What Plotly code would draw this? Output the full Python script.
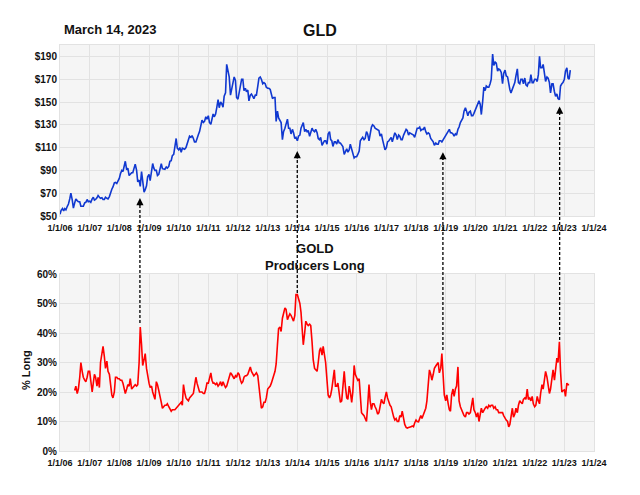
import plotly.graph_objects as go
import pandas as pd

# ---------------- DATA ----------------
tick_labels = ["1/1/06", "1/1/07", "1/1/08", "1/1/09", "1/1/10", "1/1/11", "1/1/12",
               "1/1/13", "1/1/14", "1/1/15", "1/1/16", "1/1/17", "1/1/18", "1/1/19",
               "1/1/20", "1/1/21", "1/1/22", "1/1/23", "1/1/24"]
gld_ticks = [50, 70, 90, 110, 130, 150, 170, 190]
gld_tick_labels = ["$50", "$70", "$90", "$110", "$130", "$150", "$170", "$190"]
pct_ticks = [0, 10, 20, 30, 40, 50, 60]
pct_tick_labels = ["0%", "10%", "20%", "30%", "40%", "50%", "60%"]

# GLD price, twice a month (1st and 15th) from Jan 2006 to Mar 2023
gld_2006 = [51.6, 55, 56.5, 54.5, 56.5, 55.5, 58.5, 60.5, 65, 70, 64, 57,
            61.5, 65, 63.5, 62.5, 62.5, 58.5, 58.5, 58.5, 61.5, 62, 64.5, 62.5]
gld_2007 = [63, 62, 65, 66.5, 64, 64.5, 66, 68, 66.5, 65.5, 66, 64.5,
            64.5, 66.5, 65.5, 65, 67, 70.5, 73.5, 75.5, 79, 79.5, 78.5, 80.5]
gld_2008 = [83, 87, 90, 89, 95, 98, 90.5, 92, 85.5, 87, 88, 88,
            92, 95.5, 90, 80, 81.5, 76, 89, 82, 71, 73, 76.5, 84.5]
gld_2009 = [86.5, 81, 90, 96, 92, 90, 90, 85.5, 86.5, 90, 96, 91.5,
            91.5, 91, 93, 92, 93.5, 98, 98.5, 103, 104, 110, 118, 109.5]
gld_2010 = [108, 110, 106, 109.5, 109, 108.5, 110, 113, 115, 120, 119, 120.5,
            118, 115, 115, 119, 121.5, 124, 129, 134, 132, 133, 137, 135]
gld_2011 = [138, 132, 130.5, 134, 139.5, 137, 139.5, 145, 152, 145, 150, 148.5,
            145.5, 155, 158, 183, 178, 172, 156, 162, 170, 172, 169, 154]
gld_2012 = [152.5, 158, 168, 170, 170, 160, 162, 159, 160.5, 151, 156, 157,
            155, 153, 156, 156, 164, 171, 172, 170, 166, 167, 166, 163]
gld_2013 = [162, 162, 161, 155, 153, 154, 154, 133, 142, 136, 134, 132,
            117, 124, 127, 130, 135, 127, 127, 122, 126, 123, 118, 119]
gld_2014 = [116, 120, 121, 127, 129, 132, 124, 126, 124, 125, 120, 124,
            127, 125, 124, 126, 123, 118, 117, 119, 112, 114, 116, 116]
gld_2015 = [113, 122, 124, 117, 116, 111, 115, 115, 113, 117, 114, 114,
            112, 111, 104, 107, 109, 106, 108, 113, 109, 104, 101, 102]
gld_2016 = [102, 104, 107, 116, 118, 119, 117, 118, 124, 122, 116, 124,
            128, 130, 129, 127, 126, 126, 125, 120, 122, 117, 112, 108]
gld_2017 = [110, 115, 116, 118, 119, 115, 119, 123, 121, 117, 121, 120,
            117, 117, 121, 123, 126, 125, 121, 123, 122, 122, 121, 119]
gld_2018 = [125, 127, 127, 128, 125, 126, 126, 128, 124, 122, 123, 122,
            118, 117, 115, 112, 114, 113, 113, 116, 116, 115, 117, 118]
gld_2019 = [121, 122, 124, 126, 123, 123, 122, 120, 122, 121, 126, 128,
            132, 134, 136, 142, 145, 142, 138, 141, 142, 138, 138, 140]
gld_2020 = [143, 146, 149, 151, 148, 139, 151, 163, 160, 164, 163, 163,
            166, 170, 192, 182, 185, 184, 177, 179, 178, 176, 166, 175]
gld_2021 = [178, 173, 172, 165, 161, 158, 161, 165, 167, 173, 179, 167,
            166, 170, 170, 166, 171, 165, 164, 167, 167, 174, 167, 167]
gld_2022 = [170, 170, 168, 174, 190, 180, 180, 183, 175, 168, 172, 171,
            167, 158, 166, 166, 159, 155, 157, 153, 152, 164, 166, 167]
gld_2023 = [170, 177, 180, 171, 170, 178]

# Gold producers long (% of open interest), twice a month from Jul 2006 to Mar 2023
prod_2006 = [20.5, 22, 19.5, 21, 25, 30, 27, 25, 24, 23.5, 25, 27]
prod_2007 = [27, 24, 20, 23, 26, 25, 22, 25, 21.5, 30, 33, 35.5,
             32, 28, 30.5, 27, 26, 22, 19, 18, 20, 25, 25, 24.5]
prod_2008 = [24.5, 24, 24, 23, 21, 19.5, 21, 22.5, 22, 24.5, 21, 21.5,
             22, 22.5, 22, 22.5, 30, 42, 36, 29, 31, 33, 28, 25]
prod_2009 = [23, 21.5, 22, 20, 18.5, 17.5, 23.5, 22.5, 20.5, 19, 16.5, 14.5,
             15, 15.5, 15.5, 16, 15, 14, 13.5, 14, 14, 14, 14.5, 15]
prod_2010 = [15.5, 16, 16.5, 15.5, 22.5, 20, 18, 17.5, 17, 18, 18.5, 19,
             19.5, 22, 25, 23, 21, 20, 20, 20, 19.5, 19.5, 21, 23]
prod_2011 = [23, 24.5, 26.5, 24, 23, 23, 22.5, 23, 22, 22.5, 23.5, 22,
             23.5, 22.5, 21.5, 22, 24, 25, 26.5, 26, 25, 24.5, 25.5, 25]
prod_2012 = [26.5, 26, 24, 23, 23.5, 25, 25.5, 25.5, 26, 27, 28.5, 27,
             26, 25.5, 26, 26.5, 25.5, 22, 18, 14.5, 15, 16.5, 16.5, 18]
prod_2013 = [21, 21.5, 22, 23, 24, 25.5, 27, 29.5, 36, 41.5, 42, 40.5,
             45, 47, 48.5, 48, 44.5, 45.5, 46.5, 46, 45, 44, 46, 53]
prod_2014 = [53, 51.5, 50, 47, 41, 36, 40, 44, 43, 42.5, 43, 42.5,
             37, 31, 28, 27.5, 27, 30, 34, 35, 32.5, 35.5, 33, 30]
prod_2015 = [24, 19, 18, 19, 21, 24, 27.5, 22, 22, 23, 19, 16.5,
             17, 21, 27, 22, 18, 17.5, 22, 20, 16.5, 20, 29, 26]
prod_2016 = [25, 24, 24.5, 19, 13, 12.5, 12, 11, 10, 15, 22.5, 17,
             14, 16, 16, 15, 14, 12.5, 13, 15, 17.5, 16.5, 16, 18]
prod_2017 = [20, 18, 16.5, 15.5, 15, 13, 11.5, 10.5, 11, 10, 10, 12,
             11.5, 13.5, 11, 9, 8, 7.8, 8, 8, 8.2, 8.5, 8.2, 9.5]
prod_2018 = [10.5, 10, 9.9, 11, 12, 11, 12.5, 13.5, 14.5, 17, 22, 27.5,
             26, 24, 26, 28, 28.8, 29.5, 30, 26.5, 28, 33, 26, 19]
prod_2019 = [17, 19, 16, 14, 13.5, 19, 21, 18.5, 21, 22, 28.5, 17,
             15, 14, 12.5, 12, 11.5, 13, 13, 12.5, 13, 16, 18, 14]
prod_2020 = [13, 11.5, 13, 10, 12.5, 14.5, 13, 14, 14.5, 15, 14.5, 15.5,
             15, 15.5, 15.5, 14.5, 15, 14, 14, 13, 13, 13, 13, 12]
prod_2021 = [11, 10.5, 10, 8.2, 9, 11, 14.5, 11.5, 12.5, 14.5, 13, 15.5,
             17, 16.5, 16, 17.5, 18, 17.5, 21, 17.5, 18, 17, 18.5, 16]
prod_2022 = [15, 15.5, 18.5, 17, 16, 19.5, 22.5, 21, 24, 27, 25, 22,
             19.5, 21, 25, 27.5, 24, 27, 31.5, 30, 37, 27, 20, 20.5]
prod_2023 = [20.7, 18.5, 23, 22.5, 22.5]

# Arrows: date, GLD level at the arrow tip, % long at the arrow base
arrow_dates = ["2008-09-11", "2013-12-31", "2018-11-28", "2022-11-04"]
arrow_tip_gld = [65.7, 107, 106, 146]
arrow_base_pct = [43.4, 53.6, 34.2, 37.6]

# ---------------- BUILD ----------------
gld = (gld_2006 + gld_2007 + gld_2008 + gld_2009 + gld_2010 + gld_2011 + gld_2012 +
       gld_2013 + gld_2014 + gld_2015 + gld_2016 + gld_2017 + gld_2018 + gld_2019 +
       gld_2020 + gld_2021 + gld_2022 + gld_2023)
gld_dates = pd.date_range("2006-01-01", periods=len(gld), freq="SMS")

prod = (prod_2006 + prod_2007 + prod_2008 + prod_2009 + prod_2010 + prod_2011 +
        prod_2012 + prod_2013 + prod_2014 + prod_2015 + prod_2016 + prod_2017 +
        prod_2018 + prod_2019 + prod_2020 + prod_2021 + prod_2022 + prod_2023)
prod_dates = pd.date_range("2006-07-01", periods=len(prod), freq="SMS")

tick_vals = [pd.Timestamp(2000 + int(t.split("/")[2]), 1, 1) for t in tick_labels]

FONT = "Liberation Sans, Arial, sans-serif"
GRID = "#e2e2e2"
BG = "#f5f5f5"

# page has an 8px body margin: figure sized to fill the 640x495 window
OFF = 8
W, H = 640 - OFF, 495 - OFF

def px(x):
    return (x - OFF) / W

def py(y):
    return 1 - (y - OFF) / H

x_dom = [px(60), px(594)]
y1_dom = [py(216), py(45)]
y2_dom = [py(451), py(274)]
y1_rng = [50, 200]
y2_rng = [0, 60]
x_rng = [tick_vals[0], tick_vals[-1]]

fig = go.Figure()
fig.add_trace(go.Scatter(x=gld_dates, y=gld, mode="lines",
                         line=dict(color="#1038d0", width=1.6),
                         xaxis="x", yaxis="y", hoverinfo="skip"))
fig.add_trace(go.Scatter(x=prod_dates, y=prod, mode="lines",
                         line=dict(color="#ff0000", width=1.6),
                         xaxis="x2", yaxis="y2", hoverinfo="skip"))

axis_common = dict(showgrid=True, gridcolor=GRID, gridwidth=1, zeroline=False,
                   showline=True, linecolor=GRID, mirror=True, ticks="",
                   automargin=False,
                   tickfont=dict(family=FONT, size=10, color="#111", weight="bold"))
xaxis_common = dict(axis_common, tickangle=0, ticklabelstandoff=3,
                    tickfont=dict(family=FONT, size=9, color="#111", weight="bold"))

fig.update_layout(
    width=W, height=H,
    margin=dict(l=0, r=0, t=0, b=0),
    paper_bgcolor="white", plot_bgcolor=BG,
    showlegend=False,
    xaxis=dict(domain=x_dom, range=x_rng, tickvals=tick_vals, ticktext=tick_labels,
               anchor="y", **xaxis_common),
    yaxis=dict(domain=y1_dom, range=y1_rng, tickvals=gld_ticks, ticktext=gld_tick_labels,
               anchor="x", **axis_common),
    xaxis2=dict(domain=x_dom, range=x_rng, tickvals=tick_vals, ticktext=tick_labels,
                anchor="y2", **xaxis_common),
    yaxis2=dict(domain=y2_dom, range=y2_rng, tickvals=pct_ticks, ticktext=pct_tick_labels,
                anchor="x2", **axis_common),
)

def to_paper(v, rng, dom):
    return dom[0] + (v - rng[0]) / (rng[1] - rng[0]) * (dom[1] - dom[0])

shapes = []
annots = []
for d, tip, base in zip(arrow_dates, arrow_tip_gld, arrow_base_pct):
    shapes.append(dict(type="line", xref="x", yref="paper",
                       x0=d, x1=d,
                       y0=to_paper(base, y2_rng, y2_dom),
                       y1=to_paper(tip, y1_rng, y1_dom) - 0.012,
                       line=dict(color="black", width=1.3, dash="3px,2px")))
    annots.append(dict(x=d, y=tip, xref="x", yref="y", text="", showarrow=True,
                       ax=0, ay=9, arrowhead=2, arrowsize=1.1, arrowwidth=1.3,
                       arrowcolor="black"))

annots += [
    dict(text="GLD", x=px(320), y=py(30), xref="paper", yref="paper",
         showarrow=False, xanchor="center", yanchor="middle",
         font=dict(family=FONT, size=16, color="#111", weight="bold")),
    dict(text="March 14, 2023", x=px(110), y=py(29), xref="paper", yref="paper",
         showarrow=False, xanchor="center", yanchor="middle",
         font=dict(family=FONT, size=13, color="#111", weight="bold")),
    dict(text="GOLD<br>Producers Long", x=px(315), y=py(257), xref="paper",
         yref="paper", showarrow=False, xanchor="center", yanchor="middle",
         font=dict(family=FONT, size=13, color="#111", weight="bold")),
    dict(text="% Long", x=px(26), y=py(370), xref="paper", yref="paper",
         showarrow=False, xanchor="center", yanchor="middle", textangle=-90,
         font=dict(family=FONT, size=11, color="#111", weight="bold")),
]

fig.update_layout(shapes=shapes, annotations=annots)
fig.write_html("out.html")
